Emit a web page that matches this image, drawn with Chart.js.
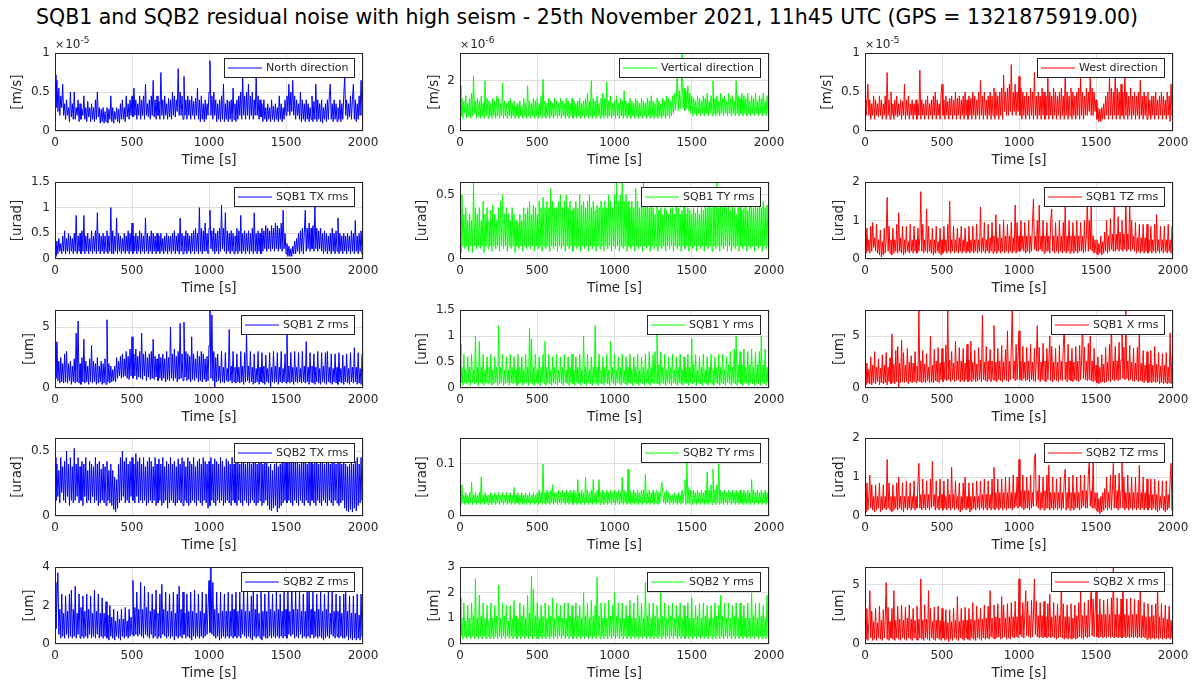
<!DOCTYPE html>
<html><head><meta charset="utf-8">
<script src="https://cdn.jsdelivr.net/npm/chart.js@4"></script>
<style>
html,body{margin:0;padding:0;background:#fff;}
body{width:1194px;height:686px;position:relative;overflow:hidden;font-family:"DejaVu Sans",sans-serif;}
#title{position:absolute;top:4px;left:-10px;width:1194px;text-align:center;font-size:20.5px;line-height:26px;color:#000;white-space:nowrap;}
canvas{position:absolute;}
</style></head>
<body>
<div id="title">SQB1 and SQB2 residual noise with high seism - 25th November 2021, 11h45 UTC (GPS = 1321875919.00)</div>
<script>
// sample spacing of the estimated series [s]
const TIME_STEP_S = 6.25;

// North velocity (x 1e-5 m/s)
const northVel = [.72,.3,.65,.25,.55,.2,.45,.3,.6,.2, .35,.15,.4,.2,.3,.12,.5,.18,.35,.15, .5,.15,.3,.2,.4,.12,.35,.15,.28,.2, .45,.15,.3,.12,.38,.18,.3,.12,.35,.15, .3,.12,.4,.15,.5,.18,.3,.1,.28,.12, .3,.1,.25,.12,.3,.1,.28,.15,.45,.12, .3,.1,.25,.15,.3,.12,.28,.1,.35,.15, .4,.15,.3,.12,.45,.18,.35,.15,.4,.2, .45,.18,.55,.2,.4,.15,.35,.2,.45,.15, .4,.2,.45,.15,.6,.2,.35,.18,.4,.15, .45,.2,.65,.18,.4,.15,.45,.2,.38,.15, .75,.2,.4,.15,.45,.2,.35,.15,.42,.18, .4,.15,.5,.2,.45,.18,.4,.25,.8,.2, .5,.2,.45,.15,.7,.2,.4,.15,.45,.2, .4,.15,.45,.2,.38,.15,.42,.2,.55,.15, .4,.12,.45,.15,.35,.12,.4,.15,.35,.2, .5,.9,.2,.45,.15,.5,.2,.4,.12,.35, .15,.4,.12,.45,.15,.6,.12,.35,.15,.4, .12,.38,.15,.4,.12,.55,.15,.35,.12,.4, .15,.45,.2,.5,.15,.7,.2,.45,.15,.5, .2,.6,.15,.45,.2,.5,.15,.4,.2,.7, .2,.45,.15,.4,.18,.35,.12,.4,.15,.3, .12,.35,.15,.3,.12,.4,.15,.32,.12,.35, .15,.3,.12,.45,.15,.35,.12,.3,.15,.4, .2,.45,.25,.6,.2,.5,.25,.65,.2,.45, .15,.4,.2,.35,.15,.5,.12,.4,.15,.35, .12,.4,.15,.35,.12,.3,.15,.45,.12,.38, .15,.6,.12,.4,.15,.35,.12,.4,.1,.3, .15,.35,.12,.4,.15,.45,.6,.15,.35,.12, .4,.15,.35,.12,.3,.15,.4,.12,.35,.15, .45,.7,.2,.4,.15,.35,.18,.45,.15,.4, .6,.15,.4,.12,.35,.15,.45,.2,.65,.2, .45];
// Vertical velocity (x 1e-6 m/s)
const vertVel = [1.8,.6,1.3,.5,1.2,.7,1.4,.5,1.1,.6, 1.3,.5,1.5,.6,2.2,.7,1.2,.5,1.3,.6, 1.2,.5,1.4,.6,1.1,.5,2.0,.6,1.3,.5, 1.2,.6,1.1,.5,1.3,.6,1.2,.5,1.4,.6, 1.3,.5,1.1,.6,1.9,.5,1.2,.6,1.1,.5, 1.2,.6,1.3,.5,1.1,.6,1.2,.5,1.0,.6, 1.1,.5,1.2,.6,1.0,.5,1.3,.6,1.1,.5, 1.8,.6,1.2,.5,1.1,.6,1.3,.5,1.2,.6, 1.3,.5,1.1,.6,1.4,.5,2.05,.6,1.2,.5, 1.1,.6,1.3,.5,1.2,.6,1.1,.5,1.3,.6, 1.2,.5,1.1,.6,1.3,.5,1.2,.6,1.1,.5, 1.3,.6,1.2,.5,1.1,.6,1.3,.5,1.2,.6, 1.1,.5,1.2,.6,1.3,.5,1.1,.6,1.2,.5, 1.3,.6,1.5,.5,1.2,.6,2.0,.5,1.3,.6, 1.2,.5,1.4,.6,1.1,.5,1.3,.6,1.5,.5, 1.3,.6,1.95,.5,1.2,.6,1.4,.5,1.1,.6, 1.2,.5,1.4,.6,1.1,.5,1.3,.6,1.2,.5, 1.6,.6,1.2,.5,1.1,.6,1.3,.5,1.2,.6, 1.1,.5,1.3,.6,1.2,.5,1.1,.6,1.3,.5, 1.2,.6,1.1,.5,1.3,.6,1.2,.5,1.4,.6, 1.2,.5,1.1,.6,1.3,.5,1.2,.6,1.1,.5, 1.3,.6,1.2,.5,1.4,.6,1.3,.5,1.2,.6, 1.4,.7,1.5,.8,1.3,2.3,.8,1.6,.9,1.5, 3.1,.9,1.7,.8,1.6,.9,1.8,.8,1.5,.7, 1.4,.6,1.3,.7,1.2,.6,1.4,.7,1.3,.6, 1.2,.7,1.4,.6,1.3,.7,1.5,.6,1.2,.7, 1.4,.6,2.0,.7,1.3,.6,1.4,.7,1.2,.6, 1.5,.7,1.3,.6,1.4,.7,1.2,.6,1.5,.7, 1.3,.6,1.4,.7,1.2,.6,2.0,.7,1.4,.6, 1.3,.7,1.5,.6,1.4,.7,1.3,.6,1.5,.7, 1.2,.6,1.4,.7,1.3,.6,1.5,.7,1.2,.6, 1.4,.7,1.3,.6,1.5,.7,1.2,.6,1.4,.7, 2.0];
// West velocity (x 1e-5 m/s)
const westVel = [.4,.2,.35,.6,.2,.4,.15,.35,.2,.45, .15,.4,.2,.35,.18,.45,.2,.4,.15,.35, .2,.45,.15,.75,.2,.4,.15,.5,.2,.35, .15,.4,.2,.45,.18,.35,.2,.4,.15,.38, .2,.6,.15,.4,.2,.45,.15,.35,.2,.4, .15,.35,.2,.4,.15,.35,.2,.78,.15,.4, .2,.35,.15,.4,.2,.45,.15,.35,.2,.4, .15,.45,.2,.5,.15,.4,.2,.35,.15,.45, .6,.2,.4,.15,.45,.2,.38,.15,.42,.2, .45,.15,.4,.2,.5,.15,.42,.2,.45,.15, .4,.2,.45,.15,.5,.2,.4,.15,.45,.2, .42,.15,.5,.2,.45,.15,.4,.2,.5,.15, .65,.2,.45,.15,.5,.2,.4,.15,.45,.2, .5,.15,.45,.2,.55,.15,.5,.2,.45,.15, .5,.2,.55,.15,.72,.25,.5,.2,.55,.2, .6,.25,.85,.2,.5,.25,.6,.2,.5,.25, .7,.2,.55,.15,.5,.2,.45,.15,.5,.2, .45,.15,.55,.2,.5,.15,.75,.2,.45,.15, .5,.2,.45,.15,.55,.2,.5,.15,.45,.2, .7,.15,.5,.2,.45,.15,.55,.2,.5,.15, .45,.2,.5,.15,.55,.2,.45,.15,.75,.2, .5,.15,.45,.2,.55,.15,.5,.2,.45,.15, .5,.2,.55,.15,.7,.2,.5,.15,.45,.2, .55,.2,.5,.25,.7,.2,.55,.2,.5,.25, .4,.15,.3,.12,.28,.12,.3,.15,.35,.15, .45,.2,.5,.15,.7,.2,.55,.15,.5,.2, .8,.15,.55,.2,.5,.15,.6,.2,.5,.15, .75,.2,.5,.15,.45,.2,.55,.15,.45,.2, .5,.15,.45,.2,.5,.15,.65,.2,.45,.15, .5,.2,.45,.15,.5,.2,.4,.15,.45,.2, .45,.15,.5,.2,.4,.15,.45,.2,.5,.15, .45,.2,.4,.15,.5,.2,.45,.12,.6,.2, .4];
// SQB1 TX rms (urad)
const sqb1TX = [.25,.05,.35,.1,.4,.15,.3,.1,.45,.15, .55,.1,.4,.15,.5,.1,.45,.15,.4,.1, .5,.15,.85,.1,.45,.15,.5,.1,.55,.15, .85,.1,.45,.15,.5,.1,.4,.15,.55,.1, .45,.15,.55,.1,.9,.15,.5,.1,.45,.15, .5,.1,.45,.15,.55,.1,.45,.15,1.0,.1, .55,.1,.45,.15,.8,.1,.5,.15,.45,.1, .4,.15,.5,.1,.45,.15,.55,.1,.5,.15, .7,.1,.45,.15,.5,.1,.45,.15,.55,.1, .5,.15,.45,.1,.8,.15,.5,.1,.45,.15, .55,.1,.5,.15,.45,.1,.5,.15,.45,.1, .5,.15,.4,.1,.45,.15,.5,.1,.45,.15, .45,.1,.5,.15,.55,.1,.45,.15,.5,.1, .8,.15,.5,.1,.45,.15,.55,.1,.5,.15, .45,.1,.5,.15,.55,.1,.6,.15,.5,.1, 1.0,.15,.6,.1,.55,.15,.7,.15,.5,.1, .6,.95,.2,.55,.15,.6,.1,.5,.15,.55, .1,.6,.15,1.05,.2,.6,.15,.9,.1,.55, .15,.5,.1,.55,.15,.5,.1,.45,.15,.6, .1,.55,.15,.85,.1,.5,.15,.55,.1,.5, .15,.55,.1,.5,.15,.6,.1,.9,.15,.5, .1,.55,.15,.5,.1,.6,.15,.55,.2,.65, .15,.6,.2,.55,.15,.65,.2,.6,.15,.7, .2,.65,.15,.6,.2,.7,.15,.95,.2,.5, .1,.3,.05,.25,.05,.2,.05,.25,.1,.35, .1,.4,.15,.5,.1,.55,.15,.6,.1,.5, .95,.15,.6,.2,.7,.15,.6,.2,.65,.15, 1.05,.2,.6,.15,.55,.2,.6,.15,.5,.1, .55,.15,.5,.1,.45,.15,.5,.1,.6,.15, .5,.1,.55,.15,.8,.1,.5,.15,.45,.1, .5,.15,.45,.1,.5,.15,.45,.1,.55,.15, .5,.1,.75,.15,.45,.1,.5,.15,.55,.1, .4];
// SQB1 TY rms (urad)
const sqb1TY = [.3,.05,.5,.1,.35,.08,.4,.1,.3,.06, .35,.1,.3,.05,.6,.1,.4,.08,.35,.1, .4,.08,.3,.1,.45,.05,.35,.1,.4,.08, .3,.1,.38,.06,.42,.1,.35,.08,.3,.1, .4,.06,.45,.1,.5,.08,.35,.1,.4,.06, .35,.1,.3,.08,.4,.1,.35,.05,.3,.1, .28,.08,.35,.1,.3,.06,.4,.1,.35,.08, .4,.1,.45,.08,.35,.1,.42,.06,.4,.1, .35,.08,.45,.1,.4,.06,.48,.1,.4,.08, .45,.1,.4,.06,.55,.1,.45,.08,.4,.1, .4,.06,.45,.1,.5,.08,.4,.1,.45,.06, .5,.1,.4,.08,.45,.1,.38,.06,.4,.1, .45,.08,.4,.1,.5,.06,.42,.1,.45,.08, .4,.1,.45,.06,.5,.1,.4,.08,.45,.1, .38,.06,.42,.1,.4,.08,.45,.1,.4,.06, .45,.1,.4,.08,.5,.1,.45,.06,.4,.1, .5,.08,.6,.1,.45,.06,.5,.1,.6,.08, .45,.1,.5,.06,.45,.1,.4,.08,.45,.1, .4,.06,.55,.1,.45,.08,.4,.1,.45,.06, .6,.1,.45,.08,.5,.1,.4,.06,.45,.1, .4,.08,.35,.1,.42,.06,.38,.1,.4,.08, .35,.1,.4,.06,.38,.1,.35,.08,.4,.1, .4,.06,.35,.1,.55,.08,.4,.1,.35,.06, .38,.1,.42,.08,.35,.1,.4,.06,.38,.1, .35,.08,.4,.1,.36,.06,.4,.1,.35,.08, .4,.1,.38,.06,.42,.1,.4,.08,.45,.1, .4,.06,.5,.1,.45,.08,.6,.1,.4,.06, .45,.1,.4,.08,.45,.1,.4,.06,.42,.1, .38,.06,.42,.1,.4,.08,.35,.1,.4,.06, .42,.1,.38,.08,.4,.1,.42,.06,.38,.1, .5,.08,.42,.1,.4,.06,.45,.1,.4,.08, .42,.1,.4,.06,.45,.1,.4,.08,.42,.1, .4];
// SQB1 TZ rms (urad)
const sqb1TZ = [.6,.15,.8,.2,.5,.15,.85,.2,.95,.3, .55,.2,.9,.15,.5,.1,.75,.05,.45,.1, .8,.15,.5,1.6,.2,.85,.15,.5,.1,.8, .15,.5,.2,.9,.15,1.2,.2,.55,.15,.85, .1,.5,.15,.85,.2,.45,.15,.9,.2,.5, .15,.85,.2,.5,.15,.8,.2,.55,1.75,.2, .9,.15,.5,.2,1.3,.15,.85,.2,.5,.15, .8,.1,.5,.15,.85,.2,.45,.15,.8,.1, .5,.15,.85,.2,.5,.15,.9,.2,1.5,.15, .5,.2,.85,.15,.5,.2,.8,.15,.55,.2, .85,.15,.5,.2,.8,.15,.45,.2,.85,.15, .5,.2,.85,.15,.5,.2,.9,.15,.5,.2, 1.35,.15,.55,.2,.95,.15,.5,.2,.9,.15, .55,.2,.95,.15,.6,.2,1.15,.15,.55,.2, .9,.15,.55,.2,1.0,.15,.6,.2,.9,.15, .6,.2,.95,.15,.55,.2,1.4,.15,.95,.2, .6,.2,1.0,.25,.6,.2,.95,.15,.6,.2, 1.0,.15,.6,.2,.95,1.55,.25,.6,.2,1.0, .2,1.4,.25,.6,.2,1.0,.15,.6,.2,.95, .2,.6,.15,1.0,1.3,.2,.6,.15,.95,.2, .6,.15,1.0,.2,.6,.15,.95,.2,1.4,.15, .6,.2,1.0,.15,.6,.2,.95,.15,.6,.2, 1.0,.15,.6,.2,.95,.2,.6,.15,1.0,.2, .6,1.6,.2,1.0,.25,1.45,.2,.6,.15,.5, .15,.5,.1,.4,.15,.6,.1,.45,.15,.7, .2,1.0,.15,.6,.2,1.05,.25,.65,.2,1.5, .2,.65,.25,1.1,.2,.7,.25,1.0,.2,.65, .25,1.6,.2,.65,.25,1.5,.2,1.0,.25,.6, .2,.95,.15,.55,.2,.9,.15,.55,.2,.9, .15,.55,.2,.9,.15,.5,.2,.85,.15,.5, .2,.9,.15,1.15,.2,.5,.15,.85,.2,.5, .15,.85,.2,.5,.15,.9,.2,.5,.15,.85, .8];
// SQB1 Z rms (um)
const sqb1Z = [3.5,.8,3.8,.6,2.2,.4,2.5,.5,2.0,.4, 2.8,.5,3.0,.4,2.0,.6,2.2,.3,1.8,.5, 2.4,.4,4.5,.5,5.5,.4,2.0,.3,2.5,.5, 4.0,.4,2.2,.5,1.8,.3,2.4,.5,3.5,.4, 2.2,.5,2.0,.3,2.5,.4,1.8,.5,2.2,.3, 2.0,.4,2.4,.3,5.6,.5,2.0,.4,1.8,.5, 1.5,.6,1.8,.5,2.5,.8,2.2,1.0,2.6,.8, 2.8,.9,2.4,1.0,3.0,.8,2.6,.7,3.2,1.0, 4.2,.8,2.8,1.0,3.2,.7,2.6,.9,3.0,.8, 4.5,.7,2.8,1.0,3.0,.6,2.5,.9,2.8,.7, 3.0,.8,4.0,.7,2.6,.9,2.4,.6,2.8,.8, 2.5,.6,2.8,.8,2.4,.5,3.0,.7,2.5,.6, 5.0,.8,2.8,.6,3.2,.8,2.6,.5,3.0,.7, 5.3,.8,2.8,.6,5.4,.9,3.0,.6,2.8,.7, 2.6,.5,4.2,.7,2.8,.6,2.4,.8,3.0,.5, 2.6,.6,3.0,.5,2.8,.7,2.4,.5,2.6,.6, 3.5,6.4,.8,6.0,.6,3.0,0,2.5,.5,2.8, .6,1.8,.4,3.0,.5,1.7,.4,2.9,.6,1.6, .5,4.8,.6,1.8,.4,3.0,.5,1.7,.4,2.8, .5,1.7,.4,3.0,.5,1.8,.3,2.9,.5,4.5, .6,1.8,.4,3.0,.5,1.7,.3,2.8,.4,1.6, .5,3.0,.3,1.7,.5,2.9,.4,1.8,.3,2.7, .5,1.6,.4,2.9,0,1.7,.5,3.0,.4,1.8, .5,2.9,.3,1.7,.5,3.0,.4,1.6,.5,2.8, .4,4.4,.5,1.8,.4,2.9,.5,1.7,.3,3.0, .5,1.7,.4,2.9,.5,1.6,.4,3.0,.5,1.8, .4,3.8,.5,1.7,.3,2.9,.5,1.8,.4,2.8, .3,1.7,.5,3.0,.4,1.6,.3,2.9,.5,1.8, .4,2.9,.3,3.0,.5,1.7,.4,2.8,.3,1.6, .5,2.8,.4,1.7,.3,2.9,.5,1.6,.4,2.7, .3,1.8,.5,2.8,.4,1.6,.3,2.9,.5,1.7, .4,3.3,.5,1.7,.3,2.9,.4,1.6,.3,2.8, 2.8];
// SQB1 Y rms (um)
const sqb1Y = [.85,.1,.4,.05,.65,.1,.35,.08,.6,.1, .4,.05,.65,.1,.35,.08,1.0,.1,.4,.05, .9,.1,.4,.08,.65,.05,.35,.1,.6,.08, .4,.1,.65,.05,.35,.08,.6,.1,.4,.05, 1.2,.08,.4,.1,.65,.05,.35,.08,.6,.1, .35,.05,.65,.1,.4,.08,.6,.1,.35,.05, .65,.08,.4,.1,.6,.05,.35,.08,.65,.1, .4,.05,1.15,.1,.95,.08,.4,.05,.65,.1, .35,.08,.6,.05,.4,.1,.65,.08,.9,.05, .4,.1,.65,.08,.35,.05,.6,.1,.4,.08, .65,.05,.35,.1,.6,.08,.4,.05,.65,.1, .35,.08,.6,.05,.4,.1,.65,.08,.35,.05, .6,.1,.4,.08,.65,.05,.35,.1,1.0,.08, .4,.05,.65,.1,.35,.08,.6,.05,.4,.1, 1.2,.08,.4,.05,.65,.1,.35,.08,.6,.05, .4,.1,.65,.08,.35,.05,.9,.1,.4,.08, .65,.05,.35,.1,.6,.08,.4,.05,.65,.1, .35,.08,.6,.05,.4,.1,.65,.08,.35,.05, .6,.1,.4,.08,.65,.05,.35,.1,.6,.08, .4,.05,.65,.1,.35,.08,.7,.05,.4,.1, .65,.08,.7,.1,1.05,.08,.45,.05,.7,.1, .4,.08,.65,.05,.35,.1,.6,.08,.4,.05, .65,.1,.35,.08,.6,.05,.4,.1,.65,.08, .35,.05,.6,.1,.4,.08,.65,.05,.4,.1, .95,.08,.45,.1,.65,.05,.35,.1,.6,.08, .4,.05,.65,.1,.35,.08,.6,.05,.4,.1, .65,.08,.35,.05,.6,.1,.4,.08,.65,.05, .4,.1,.65,.08,.35,.05,.6,.1,.45,.08, .7,.05,.4,.1,.75,.08,1.0,.05,.45,.1, .7,.08,.45,.05,.75,.1,.4,.08,.7,.05, .45,.1,.75,.08,.4,.05,.7,.1,.45,.08, .7,.05,1.0,.1,.45,.08,.75,.05,.4,.1, .9];
// SQB1 X rms (um)
const sqb1X = [1.5,.3,2.4,.5,1.8,.4,3.0,.3,2.2,.5, 3.5,.4,2.0,.6,2.8,.3,1.9,.5,3.2,.4, 2.2,.5,3.4,.3,2.0,.6,2.9,.4,5.2,.5, 2.3,.4,3.6,.6,4.0,0,2.4,.5,4.6,.6, 3.4,.5,2.2,.6,3.8,.4,2.5,.6,3.1,.5, 2.4,.6,3.5,.5,2.1,.7,7.5,.6,2.6,.5, 3.6,.6,2.3,.5,3.3,.7,2.0,.5,5.0,.6, 2.2,.5,3.7,.7,2.6,.6,3.9,.5,2.4,.8, 3.8,.6,2.5,.8,4.1,.7,7.5,.8,2.7,.6, 3.5,.8,2.4,.6,4.5,.7,2.6,.8,3.9,.6, 2.6,.7,3.8,.6,2.4,.8,4.2,.6,2.7,.7, 4.5,.6,2.5,.8,3.6,.6,2.3,.7,3.9,.8, 2.7,.6,7.0,.8,2.5,.7,4.0,.6,2.6,.8, 3.7,.6,2.6,.8,6.0,.7,2.5,.6,3.8,.8, 2.6,.7,4.1,.6,2.5,.8,3.7,.7,5.5,.6, 2.6,.8,4.0,7.5,.9,2.6,.7,4.2,.8,2.8, 5.5,.8,2.6,.7,4.0,.9,2.5,.7,3.9,.8, 2.6,.6,4.2,.8,2.5,.7,3.8,.6,2.7,6.0, .8,3.9,.6,2.5,.8,4.3,.7,2.6,.6,3.8, .8,2.6,5.0,.7,4.0,.6,2.5,.8,3.8,.7, 2.5,.6,4.1,.8,2.6,.7,3.9,6.0,.8,2.5, .6,4.2,.8,2.6,.7,3.8,.6,2.5,.8,4.0, .7,2.6,.6,4.1,.8,2.6,7.0,.9,3.9,.8, 2.6,.7,4.3,.8,5.0,.7,2.6,.6,3.8,.7, 2.2,.5,3.0,.4,2.0,.5,3.2,.6,2.3,.5, 3.9,.6,2.5,.7,4.2,.6,6.5,.8,2.6,.7, 4.0,.8,2.6,.7,4.4,.8,2.7,6.0,.9,3.9, .8,7.4,.9,2.6,.7,4.1,.8,2.5,.7,3.8, .6,2.4,.8,3.9,.6,5.5,.7,2.4,.6,3.6, .5,2.2,.7,3.5,.5,2.3,.6,3.6,.5,2.2, .6,4.0,.5,2.3,.6,3.4,.4,2.1,.5,3.3, .4,2.2,.5,3.4,.4,2.0,.5,5.3,.4,3.0, 3.8];
// SQB2 TX rms (urad)
const sqb2TX = [.45,.12,.4,.15,.35,.1,.45,.18,.38,.12, .42,.1,.5,.15,.4,.08,.45,.12,.38,.1, .52,.12,.4,.15,.45,.1,.38,.12,.42,.08, .4,.15,.45,.1,.35,.12,.42,.1,.4,.15, .38,.1,.45,.12,.4,.08,.42,.1,.36,.12, .4,.1,.38,.08,.42,.12,.35,.1,.4,.08, .35,.05,.3,.03,.28,.06,.4,.1,.45,.12, .5,.15,.42,.1,.45,.12,.4,.1,.42,.15, .45,.12,.4,.1,.48,.15,.42,.1,.45,.12, .4,.1,.45,.12,.38,.08,.42,.1,.45,.12, .42,.1,.38,.12,.45,.08,.4,.1,.44,.12, .4,.08,.45,.1,.38,.12,.42,.06,.4,.1, .45,.12,.4,.1,.42,.08,.38,.1,.44,.12, .4,.1,.45,.08,.42,.12,.38,.1,.45,.08, .42,.1,.4,.12,.45,.1,.38,.08,.42,.12, .44,.1,.4,.08,.45,.12,.42,.1,.4,.06, .42,.08,.45,.12,.4,.1,.44,.08,.42,.12, .4,.1,.45,.12,.42,.08,.38,.1,.44,.12, .42,.1,.4,.08,.45,.12,.4,.1,.42,.08, .45,.12,.4,.1,.42,.08,.45,.12,.4,.1, .42,.08,.44,.1,.4,.12,.45,.1,.42,.08, .4,.1,.45,.12,.42,.08,.4,.1,.45,.12, .42,.08,.38,.05,.4,.04,.35,.06,.4,.08, .42,.03,.38,.06,.4,.08,.45,.1,.42,.12, .5,.1,.45,.12,.42,.1,.44,.08,.45,.12, .42,.1,.45,.08,.4,.12,.44,.1,.42,.08, .45,.12,.4,.1,.42,.08,.45,.12,.4,.1, .42,.08,.44,.12,.4,.1,.45,.08,.42,.12, .4,.1,.42,.08,.45,.12,.4,.1,.42,.08, .44,.12,.4,.1,.42,.08,.45,.1,.4,.12, .42,.06,.4,.04,.38,.03,.4,.05,.42,.03, .4,.06,.42,.04,.45,.08,.4,.1,.45,.12, .42];
// SQB2 TY rms (urad)
const sqb2TY = [.035,.022,.06,.025,.04,.022,.045,.025,.04,.022, .045,.025,.065,.022,.04,.025,.045,.022,.04,.025, .045,.022,.075,.025,.04,.022,.045,.025,.04,.022, .04,.025,.045,.022,.04,.025,.045,.022,.04,.025, .045,.022,.04,.025,.045,.022,.04,.025,.045,.022, .04,.025,.045,.022,.04,.025,.055,.022,.04,.025, .045,.022,.04,.025,.045,.022,.04,.025,.045,.022, .04,.025,.045,.022,.04,.025,.045,.022,.04,.025, .045,.022,.05,.025,.045,.022,.1,.025,.045,.022, .05,.025,.045,.022,.05,.025,.06,.022,.045,.025, .045,.022,.05,.025,.045,.022,.05,.025,.045,.022, .05,.025,.045,.022,.05,.025,.045,.022,.05,.025, .045,.022,.07,.025,.045,.022,.05,.025,.045,.022, .075,.025,.05,.022,.045,.025,.05,.022,.07,.025, .045,.022,.05,.025,.07,.022,.045,.025,.05,.022, .045,.025,.05,.022,.045,.025,.05,.022,.045,.025, .05,.022,.045,.025,.05,.022,.045,.025,.075,.022, .05,.025,.045,.022,.09,.025,.05,.022,.045,.025, .05,.022,.045,.025,.05,.022,.045,.025,.05,.022, .05,.025,.08,.022,.045,.025,.05,.022,.045,.025, .05,.022,.045,.025,.05,.022,.045,.025,.05,.065, .045,.025,.045,.022,.05,.025,.045,.022,.04,.025, .04,.022,.045,.025,.04,.022,.045,.025,.04,.022, .05,.025,.045,.07,.022,.105,.025,.055,.022,.05, .045,.022,.05,.025,.045,.022,.05,.025,.045,.022, .05,.025,.045,.022,.05,.025,.085,.022,.05,.025, .06,.022,.09,.025,.05,.022,.06,.025,.1,.022, .05,.025,.045,.022,.05,.025,.045,.022,.05,.025, .045,.022,.05,.025,.045,.022,.05,.025,.045,.022, .05,.025,.045,.022,.05,.025,.045,.022,.05,.025, .045,.022,.07,.025,.05,.022,.045,.025,.05,.022, .045,.025,.05,.022,.045,.025,.05,.022,.045,.025, .055];
// SQB2 TZ rms (urad)
const sqb2TZ = [.5,.1,.85,.15,.5,1.05,.2,.8,.15,.5, .1,.8,.15,.5,.2,.85,.1,.5,.15,.8, .2,.5,.15,1.45,.2,.85,.15,.5,.1,.8, .15,.5,.2,.85,.15,1.0,.2,.5,.15,.85, .1,.5,.2,.9,.15,.5,.2,.85,.15,.5, .2,.9,.15,.5,.2,.85,1.35,.2,.55,.15, .95,.2,.55,.15,.9,.2,.55,.15,.95,.2, 1.4,.25,.55,.15,.9,.2,.5,.15,.95,.2, .55,.15,.9,.2,.5,.15,.95,.2,.55,.15, 1.25,.2,.55,.15,.9,.2,.5,.15,.85,.1, .5,.15,.85,.2,1.0,.15,.5,.2,.85,.1, .5,.15,.85,.2,.5,.15,.9,.2,.5,.15, .9,.2,.55,.15,.95,.2,.55,.15,.9,.2, .55,.15,.95,.2,1.25,.15,.6,.2,.95,.15, .6,.2,.95,.15,.6,.2,1.0,.15,.6,.2, 1.0,.2,.6,.15,1.05,.2,.6,.25,1.0,.2, 1.45,.25,.65,.2,1.05,.15,.65,.2,1.0,.2, .65,.15,1.05,.2,.6,.25,1.5,1.6,.25,.65, .2,1.05,.15,.6,.2,1.0,.15,.65,.2,1.05, .2,1.3,.15,.6,.2,1.0,.15,.6,.2,.95, .15,.6,.2,1.0,.15,.6,.2,.95,1.2,.15, .6,.2,1.0,.15,.6,.2,1.05,.15,.6,.2, 1.0,.2,.6,.15,1.05,.2,.65,.25,1.05,.2, .65,.2,1.05,1.4,.25,.65,.2,1.5,.2,.6, .15,.6,.1,.45,.05,.5,.1,.6,.15,.7, .2,1.0,.15,.6,.2,1.05,.15,.65,1.35,.2, 1.05,.2,.65,.15,1.1,.2,.65,1.4,.2,1.0, .15,.6,.2,1.05,.15,.6,.2,1.0,.15,.6, .2,1.0,.15,.6,.2,1.3,.15,.6,.2,1.0, .15,.6,.2,.95,.15,.55,.2,.95,.15,.55, .2,.95,.15,.55,.1,.9,.15,.5,.2,.9, .15,.5,.1,.9,.15,.55,.2,.9,1.35,.15, .6];
// SQB2 Z rms (um)
const sqb2Z = [3.2,.8,2.2,3.7,.5,1.8,.3,2.6,.4,1.6, .3,2.5,.5,1.7,.3,2.6,.4,2.8,.3,1.8, .4,3.0,.3,1.6,.5,2.6,.3,1.9,.4,2.5, .3,1.7,.4,2.6,.3,1.8,.5,2.5,.3,1.6, .4,2.8,.3,1.7,.5,2.6,.3,1.6,.4,2.4, .3,1.6,.4,2.2,.3,1.5,.2,2.0,.4,1.4, .3,1.8,.2,1.2,.4,1.7,.3,1.3,.2,1.8, .4,1.3,.3,1.9,.4,1.2,.3,1.8,.4,1.4, .5,3.3,.4,1.9,.5,2.7,.4,1.8,.5,3.2, .4,1.8,.3,3.0,.5,1.9,.4,2.7,.3,1.7, .5,2.6,.3,1.8,.4,2.8,.3,1.6,.4,2.6, .3,3.1,.5,1.8,.4,2.7,.3,1.7,.4,2.6, .3,1.7,.4,2.7,.2,1.6,.4,2.6,.3,3.0, .4,1.8,.3,2.7,.5,1.6,.3,2.6,.4,1.7, .3,2.7,.2,1.7,.4,2.8,.3,1.6,.4,2.6, .3,1.7,.4,2.7,.3,1.6,.4,2.6,.5,1.8, 3.3,.6,4.0,.5,3.2,.4,1.8,.3,2.7,.4, 1.6,.2,2.7,.3,1.7,.4,2.6,.3,1.7,.4, 2.7,.3,1.7,.4,2.6,.3,1.8,.4,2.7,.3, 1.7,.4,2.7,.3,1.8,.5,3.1,.4,1.7,.3, 2.7,.4,1.7,.3,2.5,.2,2.8,.4,1.8,.3, 2.6,.4,1.6,.3,2.7,.2,1.7,.4,2.6,.3, 1.7,.3,3.2,.4,1.8,.3,2.6,.4,1.7,.3, 2.7,.4,1.8,.3,2.6,.4,1.7,.3,2.7,.4, 1.8,.3,2.7,.5,1.7,.4,3.3,.5,1.8,.3, 2.7,.4,1.8,.3,2.8,.5,1.7,.3,2.6,.4, 1.7,.3,2.7,.4,3.0,.3,1.8,.5,2.7,.3, 1.7,.4,2.6,.3,1.8,.4,2.7,.3,1.7,.2, 2.6,.3,1.8,.4,2.7,.3,1.6,.5,3.0,.4, 1.7,.3,2.6,.4,1.7,.3,2.5,.4,1.6,.3, 2.6,.3,2.8,.4,1.7,.2,2.5,.3,1.6,.2, 2.5,.3,1.6,.2,2.6,.3,1.5,.2,2.6,.4, 2.0];
// SQB2 Y rms (um)
const sqb2Y = [1.8,.3,1.0,.2,1.6,.3,.9,.2,1.5,.3, 1.0,.2,1.6,.3,1.1,.2,2.55,.3,1.0,.2, 1.9,.3,1.1,.2,1.6,.3,1.0,.2,1.5,.3, .9,.2,1.6,.3,1.0,.2,1.5,.3,1.1,.2, 2.3,.3,1.0,.2,1.6,.3,1.1,.2,1.5,.3, .9,.2,1.5,.3,1.0,.2,1.7,.3,1.1,.2, 1.0,.3,1.6,.2,1.1,.3,1.5,.2,1.0,.3, 1.9,.2,1.2,.3,2.65,.2,2.15,.3,1.1,.2, 1.6,.2,1.0,.3,1.5,.2,1.1,.3,1.6,.2, 1.0,.3,1.5,.2,1.1,.3,1.8,.2,1.0,.3, 1.6,.2,1.1,.3,1.5,.2,1.0,.3,1.6,.2, 1.0,.3,1.6,.2,1.1,.3,1.5,.2,1.0,.3, 1.6,.2,1.1,.3,1.5,.2,1.0,.3,2.0,.2, 1.1,.3,1.6,.2,1.0,.3,1.7,.2,1.1,.3, 1.5,.2,2.6,.3,1.1,.2,1.6,.3,1.0,.2, 1.6,.3,1.0,.2,1.7,.3,1.1,.2,1.5,.3, 2.0,.2,1.1,.3,1.6,.2,1.0,.3,1.6,.2, 1.0,.3,1.5,.2,1.1,.3,1.7,.2,1.0,.3, 1.6,.2,1.0,.3,1.9,.2,1.1,.3,1.6,.2, 1.0,.3,2.4,.2,1.1,.3,1.6,.2,1.0,.3, 1.6,.2,1.1,.3,1.5,.2,1.0,.3,2.0,.2, 1.1,.3,1.6,.2,1.0,.3,1.5,.2,1.1,.3, 1.6,.2,1.0,.3,1.5,.2,1.1,.3,1.6,.2, 1.0,.3,1.5,.2,1.1,.3,1.6,.2,1.0,.3, 1.8,.2,1.0,.3,1.5,.2,1.1,.3,1.6,.2, 1.0,.3,1.6,.2,1.1,.3,1.5,.2,1.0,.3, 1.5,.2,1.0,.3,1.6,.2,1.1,.3,1.5,.2, 1.9,.3,1.1,.2,1.6,.3,1.0,.2,1.6,.3, 1.0,.2,1.5,.3,1.1,.2,1.6,.3,1.0,.2, 1.6,.3,1.1,.2,1.5,.3,1.0,.2,1.6,.3, 1.0,.2,2.0,.3,1.1,.2,1.6,.3,1.0,.2, 1.6,.3,1.1,.2,1.5,.3,1.0,.2,1.9,.3, 1.5];
// SQB2 X rms (um)
const sqb2X = [2.0,.4,3.0,.3,1.8,4.5,.5,2.8,.3,1.9, .4,3.0,.3,1.8,.5,3.2,.4,2.0,.3,2.9, .5,2.0,5.2,.4,3.1,.3,1.9,.5,3.0,.4, 4.5,.3,2.0,.5,3.2,.4,2.1,.3,3.3,.5, 2.0,.4,3.1,.3,2.2,.5,3.3,.4,2.1,.3, 3.0,.5,2.0,.4,3.2,.3,2.1,.5,5.5,.4, 2.0,.3,3.3,.5,2.1,.4,4.5,.3,3.0,.5, 1.9,.4,3.1,.3,2.0,.5,3.2,.4,2.0,.3, 3.0,.5,1.9,.3,2.9,.4,1.8,.2,2.9,.4, 1.9,.3,3.0,.5,2.0,.4,4.0,.3,1.9,.5, 3.0,.4,2.0,.3,3.1,.5,2.0,.4,3.0,.3, 2.1,.5,3.5,.4,2.0,.3,3.2,.5,2.1,.4, 3.0,.3,2.1,.5,3.3,.4,2.2,.5,3.2,.4, 4.5,.6,2.2,.5,3.3,.4,2.3,.5,3.4,.6, 2.2,.4,4.0,.5,3.3,.6,2.2,.4,3.4,.5, 2.3,.4,3.5,.6,2.3,.5,3.6,.6,2.3,.5, 5.5,.8,2.4,.6,3.5,.5,2.4,4.5,.7,3.6, .6,2.4,.5,3.7,.6,2.4,5.5,.8,3.6,.6, 2.4,.5,3.5,.6,2.4,.5,3.6,.6,2.3,.5, 3.4,.6,4.2,.5,2.3,.6,3.5,.5,2.4,.4, 3.4,.5,2.4,.6,5.5,.5,3.4,.4,2.3,.5, 3.3,.4,2.3,.5,3.4,.4,2.2,.5,3.3,.4, 2.4,.5,3.5,.6,4.5,.5,2.4,.4,3.5,.6, 2.4,.5,3.7,.6,2.5,5.2,.7,3.8,.6,2.5, 4.5,.6,2.5,.5,3.8,.6,2.5,.5,3.7,.6, 2.5,.5,3.8,.6,2.5,.5,3.9,.6,6.5,.5, 2.5,.6,3.9,.5,2.5,.6,3.8,.5,5.5,.6, 2.5,.5,3.8,.6,2.4,.5,3.9,.6,2.5,.5, 3.8,.6,2.5,.5,3.7,.6,5.0,.5,2.4,.6, 3.5,.5,2.3,.4,3.4,.5,2.3,.4,3.3,.5, 2.4,.4,3.4,.5,5.0,.4,2.3,.5,3.4,.4, 2.2,.5,3.3,.4,2.1,.5,3.2,.4,2.0,.5, 3.0];

// axis settings
const X_MAX = 2000;
const X_TICKS = [0, 500, 1000, 1500, 2000];
const BLUE = '#0000ff', GREEN = '#00ff00', RED = '#ff0000';

const panels = [
  {values: northVel, label: 'North direction',    color: BLUE,  yMax: 1,    yTicks: [0, 0.5, 1],       yTitle: '[m/s]',  exp: '-5'},
  {values: vertVel,  label: 'Vertical direction', color: GREEN, yMax: 3.1,  yTicks: [0, 2],            yTitle: '[m/s]',  exp: '-6'},
  {values: westVel,  label: 'West direction',     color: RED,   yMax: 1,    yTicks: [0, 0.5, 1],       yTitle: '[m/s]',  exp: '-5'},
  {values: sqb1TX,   label: 'SQB1 TX rms',        color: BLUE,  yMax: 1.5,  yTicks: [0, 0.5, 1, 1.5],  yTitle: '[urad]'},
  {values: sqb1TY,   label: 'SQB1 TY rms',        color: GREEN, yMax: 0.6,  yTicks: [0, 0.5],          yTitle: '[urad]'},
  {values: sqb1TZ,   label: 'SQB1 TZ rms',        color: RED,   yMax: 2,    yTicks: [0, 1, 2],         yTitle: '[urad]'},
  {values: sqb1Z,    label: 'SQB1 Z rms',         color: BLUE,  yMax: 6.4,  yTicks: [0, 5],            yTitle: '[um]'},
  {values: sqb1Y,    label: 'SQB1 Y rms',         color: GREEN, yMax: 1.5,  yTicks: [0, 0.5, 1, 1.5],  yTitle: '[um]'},
  {values: sqb1X,    label: 'SQB1 X rms',         color: RED,   yMax: 7.5,  yTicks: [0, 5],            yTitle: '[um]'},
  {values: sqb2TX,   label: 'SQB2 TX rms',        color: BLUE,  yMax: 0.6,  yTicks: [0, 0.5],          yTitle: '[urad]'},
  {values: sqb2TY,   label: 'SQB2 TY rms',        color: GREEN, yMax: 0.15, yTicks: [0, 0.1],          yTitle: '[urad]'},
  {values: sqb2TZ,   label: 'SQB2 TZ rms',        color: RED,   yMax: 2,    yTicks: [0, 1, 2],         yTitle: '[urad]'},
  {values: sqb2Z,    label: 'SQB2 Z rms',         color: BLUE,  yMax: 4,    yTicks: [0, 2, 4],         yTitle: '[um]'},
  {values: sqb2Y,    label: 'SQB2 Y rms',         color: GREEN, yMax: 3,    yTicks: [0, 1, 2, 3],      yTitle: '[um]'},
  {values: sqb2X,    label: 'SQB2 X rms',         color: RED,   yMax: 6.5,  yTicks: [0, 5],            yTitle: '[um]'}
];

// layout (plot-area edges in page pixels)
const COL_L = [55, 460, 865], COL_R = [363, 769, 1173];
const ROW_T = [53, 182, 310, 438, 567], ROW_B = [131, 259, 388, 516, 644];
const PADL = 62, PADT = 20, PADR = 22, PADB = 40;
const FONT = '"DejaVu Sans", sans-serif';
const TXT = '#262626';
const TICK_PX = 12, LABEL_PX = 13.5, LEG_PX = 11;

function fmt(v) { return String(Number(v.toFixed(4))); }

function decorPlugin(p) {
  return {
    id: 'decor',
    afterDatasetsDraw(chart) {
      const ctx = chart.ctx, a = chart.chartArea;
      ctx.save();
      // frame
      ctx.strokeStyle = TXT; ctx.lineWidth = 1;
      ctx.strokeRect(Math.round(a.left) + 0.5, Math.round(a.top) + 0.5, Math.round(a.right - a.left) - 1, Math.round(a.bottom - a.top) - 1);
      // legend box
      ctx.font = LEG_PX + 'px ' + FONT;
      const tw = ctx.measureText(p.label).width;
      const bw = Math.round(42 + tw + 6), bh = 19;
      const bx = Math.round(a.right - 9 - bw), by = Math.round(a.top + 5);
      ctx.fillStyle = '#fff'; ctx.fillRect(bx, by, bw, bh);
      ctx.strokeStyle = TXT; ctx.strokeRect(bx + 0.5, by + 0.5, bw, bh);
      ctx.strokeStyle = p.color; ctx.beginPath();
      ctx.moveTo(bx + 4, by + bh / 2 + 0.5); ctx.lineTo(bx + 38, by + bh / 2 + 0.5); ctx.stroke();
      ctx.fillStyle = TXT; ctx.textAlign = 'left'; ctx.textBaseline = 'middle';
      ctx.fillText(p.label, bx + 42, by + bh / 2 + 1);
      // x title
      ctx.font = LABEL_PX + 'px ' + FONT; ctx.textAlign = 'center';
      ctx.fillText('Time [s]', (a.left + a.right) / 2, a.bottom + 29);
      // y title
      ctx.font = TICK_PX + 'px ' + FONT;
      let mw = 0;
      p.yTicks.forEach(v => { mw = Math.max(mw, ctx.measureText(fmt(v)).width); });
      ctx.translate(a.left - 5 - mw - 13, (a.top + a.bottom) / 2);
      ctx.rotate(-Math.PI / 2);
      ctx.font = LABEL_PX + 'px ' + FONT;
      ctx.fillText(p.yTitle, 0, 0);
      ctx.setTransform(1, 0, 0, 1, 0, 0);
      // exponent
      if (p.exp) {
        ctx.textAlign = 'left'; ctx.textBaseline = 'alphabetic';
        ctx.font = '11px ' + FONT;
        ctx.fillText('\u00d7', a.left, a.top - 5);
        const w1 = ctx.measureText('\u00d7').width;
        ctx.font = '12px ' + FONT;
        ctx.fillText('10', a.left + w1 + 1, a.top - 5);
        const w2 = ctx.measureText('10').width;
        ctx.font = '9px ' + FONT;
        ctx.fillText(p.exp, a.left + w1 + 1 + w2, a.top - 10);
      }
      ctx.restore();
    }
  };
}

panels.forEach((p, i) => {
  const col = i % 3, row = Math.floor(i / 3);
  const L = COL_L[col], R = COL_R[col], T = ROW_T[row], B = ROW_B[row];
  const cv = document.createElement('canvas');
  const w = (R - L) + PADL + PADR, h = (B - T) + PADT + PADB;
  cv.width = w; cv.height = h;
  cv.style.width = w + 'px'; cv.style.height = h + 'px';
  cv.style.left = (L - PADL) + 'px'; cv.style.top = (T - PADT) + 'px';
  document.body.appendChild(cv);
  const pts = p.values.map((v, k) => ({x: k * TIME_STEP_S, y: v}));
  new Chart(cv, {
    type: 'line',
    data: {datasets: [{data: pts, borderColor: p.color, borderWidth: 1, pointRadius: 0, tension: 0, fill: false}]},
    options: {
      responsive: false, animation: false, devicePixelRatio: 1,
      layout: {padding: {left: 0, top: PADT, right: PADR, bottom: 0}},
      plugins: {legend: {display: false}, tooltip: {enabled: false}},
      scales: {
        x: {
          type: 'linear', min: 0, max: X_MAX,
          afterBuildTicks: s => { s.ticks = X_TICKS.map(v => ({value: v})); },
          afterFit: s => { s.height = PADB; },
          grid: {color: '#dedede', drawTicks: false},
          border: {display: false},
          ticks: {color: TXT, font: {family: FONT, size: TICK_PX}, padding: 5, maxRotation: 0, callback: v => fmt(v)}
        },
        y: {
          type: 'linear', min: 0, max: p.yMax,
          afterBuildTicks: s => { s.ticks = p.yTicks.map(v => ({value: v})); },
          afterFit: s => { s.width = PADL; },
          grid: {color: '#dedede', drawTicks: false},
          border: {display: false},
          ticks: {color: TXT, font: {family: FONT, size: TICK_PX}, padding: 5, callback: v => fmt(v)}
        }
      }
    },
    plugins: [decorPlugin(p)]
  });
});
</script>
</body></html>
